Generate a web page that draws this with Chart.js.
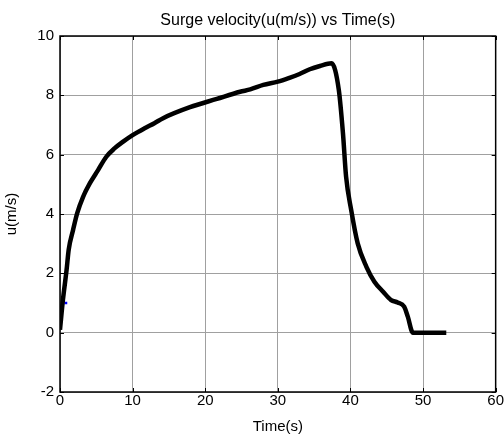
<!DOCTYPE html>
<html>
<head>
<meta charset="UTF-8">
<title>Surge velocity</title>
<script src="https://cdn.jsdelivr.net/npm/chart.js@4.4.1/dist/chart.umd.min.js"></script>
<style>
  html, body { margin: 0; padding: 0; background: #fff; }
  #wrap { width: 504px; height: 436px; }
</style>
</head>
<body>
<div id="wrap"><canvas id="surge" width="504" height="436"></canvas></div>
<script>
// values
const time = [0, 0.4, 0.9, 1.2, 1.8, 2.36, 3.18, 4.1, 5.24, 6.38, 7.5, 8.7, 10.0, 11.65, 13.0, 14.2,
              17.9, 21.6, 24.8, 26.2, 28.0, 30.0, 31.6, 33.0, 34.4, 35.8, 37.4, 38.4, 38.97, 39.4,
              40.1, 41.0, 42.2, 43.3, 44.5, 45.6, 46.5, 47.4, 47.9, 48.6, 53.2];
const surge = [0.1, 1.1, 2.1, 2.8, 3.46, 4.02, 4.58, 5.03, 5.48, 5.93, 6.21, 6.44, 6.66, 6.89, 7.06, 7.23,
               7.6, 7.88, 8.12, 8.2, 8.35, 8.46, 8.59, 8.72, 8.88, 8.99, 9.08, 8.18, 6.72, 5.26,
               4.14, 3.01, 2.22, 1.72, 1.38, 1.1, 1.02, 0.88, 0.54, 0.0, 0.0];
const markTime = [0.6, 1.0];
const markU = [1.0, 1.0];
const xTicks = [0, 10, 20, 30, 40, 50, 60];
const yTicks = [-2, 0, 2, 4, 6, 8, 10];

const font = "'Liberation Sans', Arial, sans-serif";

// box round the axes with inward tick marks, matlab style
const frame = {
  id: "frame",
  afterDraw(chart) {
    const ctx = chart.ctx, a = chart.chartArea;
    const xs = chart.scales.x, ys = chart.scales.y;
    ctx.save();
    ctx.strokeStyle = "#000";
    ctx.lineWidth = 1;
    ctx.beginPath();
    xTicks.forEach(v => {
      const px = Math.round(xs.getPixelForValue(v)) + 0.5;
      ctx.moveTo(px, a.bottom); ctx.lineTo(px, a.bottom - 4);
      ctx.moveTo(px, a.top); ctx.lineTo(px, a.top + 4);
    });
    yTicks.forEach(v => {
      const py = Math.round(ys.getPixelForValue(v)) + 0.5;
      ctx.moveTo(a.left, py); ctx.lineTo(a.left + 4, py);
      ctx.moveTo(a.right, py); ctx.lineTo(a.right - 4, py);
    });
    ctx.stroke();
    ctx.lineWidth = 1.5;
    ctx.strokeRect(a.left, a.top, a.right - a.left, a.bottom - a.top);
    ctx.restore();
  }
};

new Chart(document.getElementById("surge"), {
  type: "line",
  data: {
    datasets: [
      {
        data: time.map((t, i) => ({ x: t, y: surge[i] })),
        borderColor: "#000",
        borderWidth: 4.5,
        pointRadius: 0,
        cubicInterpolationMode: "monotone",
        borderJoinStyle: "round"
      },
      {
        data: markTime.map((t, i) => ({ x: t, y: markU[i] })),
        borderColor: "#0000ff",
        borderWidth: 2.5,
        pointRadius: 0
      }
    ]
  },
  options: {
    responsive: false,
    animation: false,
    layout: { padding: { left: 0, right: 7, top: 0, bottom: 0 } },
    plugins: {
      legend: { display: false },
      tooltip: { enabled: false }
    },
    scales: {
      // top axis only carries the title, so it is centred over the plot box
      top: {
        type: "linear",
        position: "top",
        min: 0,
        max: 60,
        afterFit: s => { s.height = 36; },
        grid: { display: false, drawTicks: false },
        border: { display: false },
        ticks: { display: false },
        title: {
          display: true,
          text: "Surge velocity(u(m/s)) vs Time(s)",
          color: "#000",
          font: { family: font, size: 16 },
          padding: { top: 11, bottom: 0 }
        }
      },
      x: {
        type: "linear",
        min: 0,
        max: 60,
        afterBuildTicks: s => { s.ticks = xTicks.map(v => ({ value: v })); },
        afterFit: s => { s.height = 44; },
        grid: { color: "#a0a0a0", lineWidth: 1, drawTicks: false },
        border: { display: false },
        ticks: { color: "#000", font: { family: font, size: 15 }, padding: 0, maxRotation: 0 },
        title: {
          display: true,
          text: "Time(s)",
          color: "#000",
          font: { family: font, size: 15 },
          padding: { top: 0, bottom: 0 }
        }
      },
      y: {
        type: "linear",
        min: -2,
        max: 10,
        afterBuildTicks: s => { s.ticks = yTicks.map(v => ({ value: v })); },
        afterFit: s => { s.width = 60; },
        grid: { color: "#a0a0a0", lineWidth: 1, drawTicks: false },
        border: { display: false },
        ticks: { color: "#000", font: { family: font, size: 15 }, padding: 6 },
        title: {
          display: true,
          text: "u(m/s)",
          color: "#000",
          font: { family: font, size: 15 },
          padding: { top: 3, bottom: 0 }
        }
      }
    }
  },
  plugins: [frame]
});
</script>
</body>
</html>
